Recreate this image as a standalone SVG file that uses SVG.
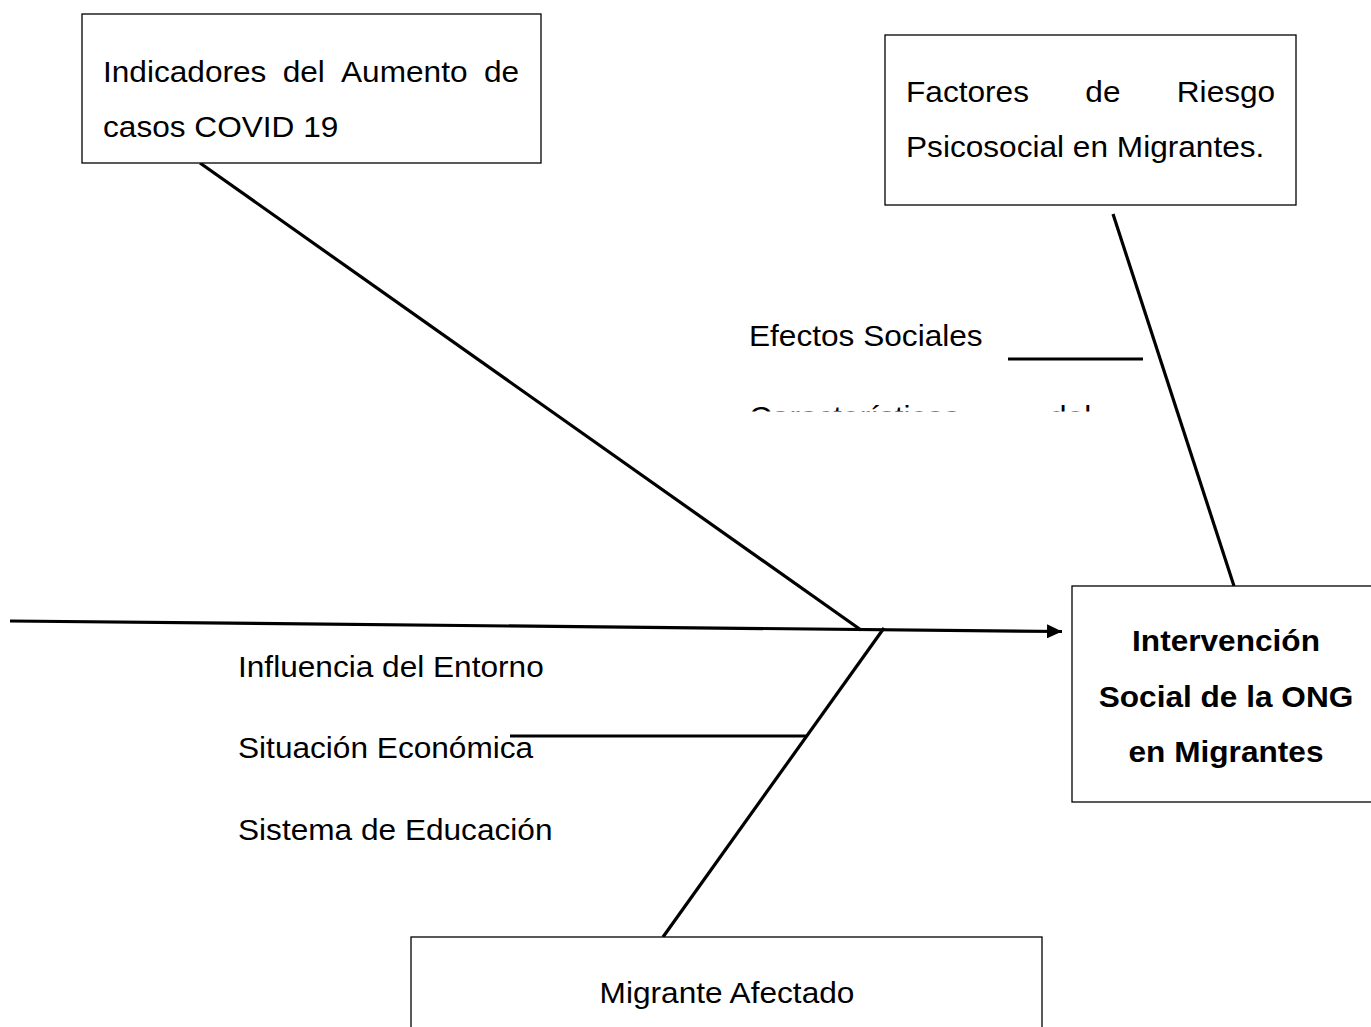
<svg xmlns="http://www.w3.org/2000/svg" width="1371" height="1027" viewBox="0 0 1371 1027">
<style>
.box{fill:#fff;stroke:#000;stroke-width:1.3}
.t{font-family:"Liberation Sans",Arial,sans-serif;font-size:29px;fill:#000}
.b{font-weight:bold;text-anchor:middle}
.m{text-anchor:middle}
.ln{stroke:#000;stroke-width:3.2;fill:none;stroke-linecap:butt}
</style>
<defs>
<marker id="arr" markerUnits="userSpaceOnUse" markerWidth="16" markerHeight="14" refX="15" refY="7" orient="auto">
<path d="M0,0 L15,7 L0,14 Z" fill="#000"/>
</marker>
<clipPath id="clipC"><rect x="700" y="300" width="500" height="111.5"/></clipPath>
</defs>
<rect width="1371" height="1027" fill="#fff"/>
<g id="connectors">
<line class="ln" x1="10" y1="621" x2="1062" y2="631.5" marker-end="url(#arr)"/>
<line class="ln" x1="200" y1="163" x2="861" y2="630"/>
<line class="ln" x1="1113" y1="214" x2="1234" y2="586"/>
<line class="ln" x1="884" y1="628" x2="663" y2="937"/>
<line class="ln" x1="1008" y1="359" x2="1143" y2="359"/>
<line class="ln" x1="510" y1="736" x2="806" y2="736"/>
</g>
<g id="node-indicadores">
<rect class="box" x="82" y="14" width="459" height="149"/>
<text class="t" transform="translate(103 82) scale(1.09 1)">Indicadores</text>
<text class="t" transform="translate(282.7 82) scale(1.09 1)">del</text>
<text class="t" transform="translate(341 82) scale(1.09 1)">Aumento</text>
<text class="t" transform="translate(484 82) scale(1.09 1)">de</text>
<text class="t" transform="translate(103 137) scale(1.09 1)">casos COVID 19</text>
</g>
<g id="node-factores">
<rect class="box" x="885" y="35" width="411" height="170"/>
<text class="t" transform="translate(906 102) scale(1.09 1)">Factores</text>
<text class="t" transform="translate(1085.3 102) scale(1.09 1)">de</text>
<text class="t" transform="translate(1176.8 102) scale(1.09 1)">Riesgo</text>
<text class="t" transform="translate(906 157) scale(1.09 1)">Psicosocial en Migrantes.</text>
</g>
<g id="node-efectos">
<text class="t" transform="translate(749 346) scale(1.09 1)">Efectos Sociales</text>
</g>
<g id="node-caracteristicas" clip-path="url(#clipC)">
<text class="t" transform="translate(749 427) scale(1.09 1)">Características</text>
<text class="t" transform="translate(1049 427) scale(1.09 1)">del</text>
</g>
<g id="node-intervencion">
<rect class="box" x="1072" y="586" width="330" height="216"/>
<text class="t b" transform="translate(1226 651) scale(1.09 1)">Intervención</text>
<text class="t b" transform="translate(1226 707) scale(1.09 1)">Social de la ONG</text>
<text class="t b" transform="translate(1226 762) scale(1.09 1)">en Migrantes</text>
</g>
<g id="node-entorno">
<text class="t" transform="translate(238 677) scale(1.09 1)">Influencia del Entorno</text>
</g>
<g id="node-economica">
<text class="t" transform="translate(238 758) scale(1.09 1)">Situación Económica</text>
</g>
<g id="node-educacion">
<text class="t" transform="translate(238 840) scale(1.09 1)">Sistema de Educación</text>
</g>
<g id="node-migrante">
<rect class="box" x="411" y="937" width="631" height="120"/>
<text class="t m" transform="translate(727 1003) scale(1.09 1)">Migrante Afectado</text>
</g>
</svg>
